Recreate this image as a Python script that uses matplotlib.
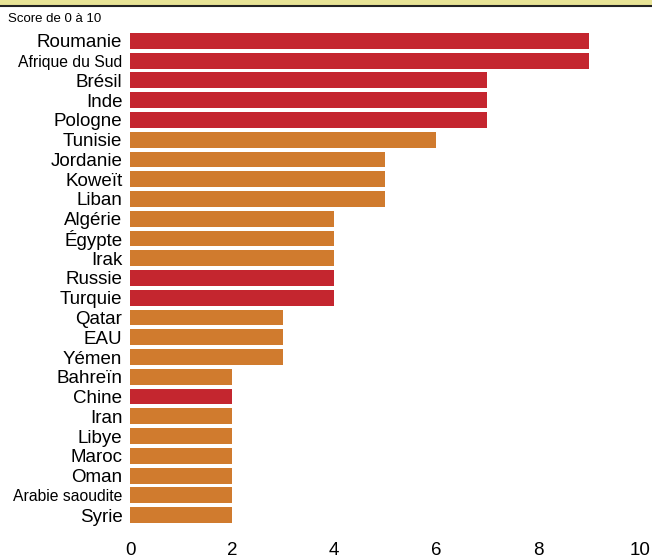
import matplotlib.pyplot as plt
from matplotlib import font_manager
from matplotlib.patches import Rectangle
from matplotlib.lines import Line2D

countries = ['Roumanie', 'Afrique du Sud', 'Brésil', 'Inde', 'Pologne', 'Tunisie',
             'Jordanie', 'Koweït', 'Liban', 'Algérie', 'Égypte', 'Irak', 'Russie',
             'Turquie', 'Qatar', 'EAU', 'Yémen', 'Bahreïn', 'Chine', 'Iran', 'Libye',
             'Maroc', 'Oman', 'Arabie saoudite', 'Syrie']
scores = [9, 9, 7, 7, 7, 6, 5, 5, 5, 4, 4, 4, 4, 4, 3, 3, 3, 2, 2, 2, 2, 2, 2, 2, 2]
red_group = ['Roumanie', 'Afrique du Sud', 'Brésil', 'Inde', 'Pologne',
             'Russie', 'Turquie', 'Chine']
narrow_labels = ['Afrique du Sud', 'Arabie saoudite']

RED = '#C4262F'
ORANGE = '#D07B2E'
colors = [RED if c in red_group else ORANGE for c in countries]

plt.rcParams['font.family'] = ['Liberation Sans', 'DejaVu Sans']
installed = {f.name for f in font_manager.fontManager.ttflist}
has_narrow = 'Liberation Sans Narrow' in installed

fig = plt.figure(figsize=(6.52, 5.59), dpi=100)
ax = fig.add_axes([130/652, 1 - 525/559, 510/652, (525-31)/559])

ypos = list(range(len(countries)))
ax.barh(ypos, scores, height=0.8, color=colors)
ax.set_ylim(len(countries) - 0.5, -0.5)
ax.set_xlim(0, 10)
ax.set_yticks(ypos)
ax.set_yticklabels(countries, fontsize=13.5)
for lab in ax.get_yticklabels():
    if lab.get_text() in narrow_labels:
        if has_narrow:
            lab.set_family(['Liberation Sans Narrow', 'Liberation Sans'])
        else:
            lab.set_fontsize(11.3)
ax.set_xticks([0, 2, 4, 6, 8, 10])
ax.tick_params(axis='x', labelsize=13.5, length=0, pad=12)
ax.tick_params(axis='y', length=0, pad=5.5)
for s in ax.spines.values():
    s.set_visible(False)

# top band
fig.patches.append(Rectangle((0, 1 - 5/559), 1, 5/559, transform=fig.transFigure,
                             facecolor='#E8E496', edgecolor='none'))
fig.lines.append(Line2D([0, 1], [1 - 6/559, 1 - 6/559], transform=fig.transFigure,
                        color='#222222', linewidth=1.5))

if has_narrow:
    fig.text(8/652, 1 - 19/559, 'Score de 0 à 10', fontsize=11, va='center', ha='left',
             family=['Liberation Sans Narrow', 'Liberation Sans'])
else:
    fig.text(8/652, 1 - 19/559, 'Score de 0 à 10', fontsize=9.5, va='center', ha='left')

fig.savefig('out.png', dpi=100)
